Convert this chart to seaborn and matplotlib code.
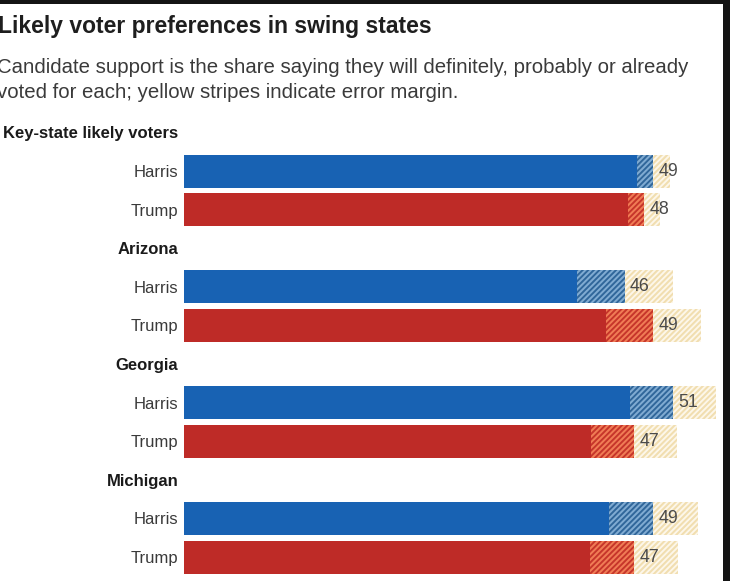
import matplotlib
matplotlib.use("Agg")
import matplotlib.pyplot as plt
from matplotlib.patches import Rectangle
import seaborn as sns
import pandas as pd

# ---- data ----
groups = ["Key-state likely voters", "Arizona", "Georgia", "Michigan"]
group_keys = ["KS", "AZ", "GA", "MI"]
candidates = ["Harris", "Trump"]
harris = [49, 46, 51, 49]
trump = [48, 49, 47, 47]
margin = [1.7, 5.0, 4.5, 4.6]

title = "Likely voter preferences in swing states"
subtitle_lines = ["Candidate support is the share saying they will definitely, probably or already",
                  "voted for each; yellow stripes indicate error margin."]

# ---- build table ----
rows, labels, heading = [], [], []
recs = []
for gk, g, h, t, m in zip(group_keys, groups, harris, trump, margin):
    rows.append("head_" + gk); labels.append(g); heading.append(True)
    for c, v in zip(candidates, [h, t]):
        key = gk + "_" + c
        rows.append(key); labels.append(c); heading.append(False)
        recs.append(dict(row=key, candidate=c, value=v, moe=m))
df = pd.DataFrame(recs)
df["upper"] = df["value"] + df["moe"]
df["lower"] = df["value"] - df["moe"]

sns.set_theme(style="white")
plt.rcParams["font.family"] = ["Liberation Sans", "DejaVu Sans"]
plt.rcParams["hatch.linewidth"] = 1.45

W, H = 730, 581
fig = plt.figure(figsize=(W / 100, H / 100), dpi=100)
fig.patch.set_facecolor("white")

left_px, right_px = 184.3, 722
top_px, bot_px = 113.2, 576.3
ax = fig.add_axes([left_px / W, 1 - bot_px / H, (right_px - left_px) / W, (bot_px - top_px) / H])
ax.patch.set_alpha(0)

solid = {"Harris": "#1862b3", "Trump": "#be2b27"}
hface = {"Harris": "#30669a", "Trump": "#c6352a"}
hline = {"Harris": "#80abd2", "Trump": "#f07c55"}
bw = 0.855
HATCH = "//////"

# layer 1: yellow error band (to value + margin)
sns.barplot(data=df, x="upper", y="row", order=rows, color="#fdf7ea", saturation=1,
            width=bw, orient="h", errorbar=None, ax=ax)
for p in ax.containers[-1]:
    p.set_hatch(HATCH); p.set_edgecolor("#f1deb0"); p.set_linewidth(0)

# layer 2: hatched candidate band (to value)
sns.barplot(data=df, x="value", y="row", order=rows, hue="candidate",
            palette=hface, hue_order=candidates, dodge=False, saturation=1,
            width=bw, orient="h", errorbar=None, legend=False, ax=ax)
for cont, c in zip(ax.containers[1:3], candidates):
    for p in cont:
        p.set_hatch(HATCH); p.set_edgecolor(hline[c]); p.set_linewidth(0)

# layer 3: solid bar (to value - margin)
sns.barplot(data=df, x="lower", y="row", order=rows, hue="candidate",
            palette=solid, hue_order=candidates, dodge=False, saturation=1,
            width=bw, orient="h", errorbar=None, legend=False, ax=ax)
for cont in ax.containers[3:]:
    for p in cont:
        p.set_linewidth(0)

# value labels
for _, r in df.iterrows():
    ax.annotate(f"{r['value']:.0f}", xy=(r["value"], rows.index(r["row"])),
                xytext=(3.8, 0), textcoords="offset points", va="center", ha="left",
                fontsize=12.8, color="#4a4a4a")

ax.set_xlim(0, (right_px - left_px) / 9.575)
ax.set_ylim(len(rows) - 0.5, -0.5)
ax.set_xlabel(""); ax.set_ylabel("")
ax.set_xticks([])
ax.set_yticks(range(len(rows)))
ax.set_yticklabels(labels)
for tl, hd in zip(ax.get_yticklabels(), heading):
    tl.set_fontsize(12)
    if hd:
        tl.set_fontweight("bold"); tl.set_color("#1a1a1a")
    else:
        tl.set_color("#3a3a3a")
ax.tick_params(axis="y", length=0, pad=4.3)
for s in ax.spines.values():
    s.set_visible(False)

# title and subtitle
fig.text(-2 / W, 1 - 32.5 / H, title, ha="left", va="baseline", fontsize=16.5,
         fontweight="bold", color="#1e1e1e")
for i, line in enumerate(subtitle_lines):
    fig.text(-3 / W, 1 - (73 + 24.5 * i) / H, line, ha="left", va="baseline",
             fontsize=14.7, color="#3a3a3a")

# dark screenshot frame (top and right)
fig.patches.append(Rectangle((0, 1 - 3.5 / H), 1, 3.5 / H, transform=fig.transFigure,
                             facecolor="#141414", edgecolor="none", zorder=10))
fig.patches.append(Rectangle((723 / W, 0), 7 / W, 1, transform=fig.transFigure,
                             facecolor="#141414", edgecolor="none", zorder=10))

fig.savefig("out.png", dpi=100)
